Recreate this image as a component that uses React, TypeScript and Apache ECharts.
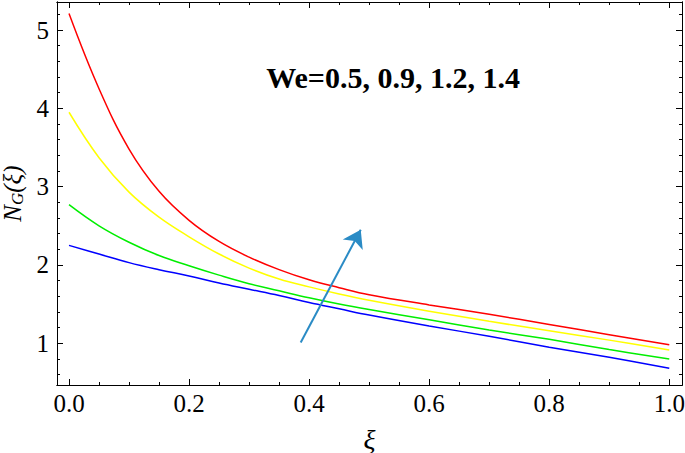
import React, { useEffect, useRef } from "react";
import * as echarts from "echarts";

const xi = [0, 0.05, 0.1, 0.15, 0.2, 0.25, 0.3, 0.35, 0.4, 0.45, 0.5, 0.6, 0.7, 0.8, 0.9, 1.0];
const we05 = [2.25, 2.14, 2.03, 1.94, 1.86, 1.77, 1.69, 1.61, 1.52, 1.44, 1.36, 1.22, 1.09, 0.95, 0.82, 0.68];
const we09 = [2.77, 2.5, 2.29, 2.12, 1.99, 1.87, 1.76, 1.67, 1.58, 1.5, 1.43, 1.3, 1.17, 1.05, 0.92, 0.8];
const we12 = [3.95, 3.37, 2.93, 2.61, 2.36, 2.14, 1.96, 1.82, 1.72, 1.63, 1.55, 1.41, 1.28, 1.16, 1.04, 0.915];
const we14 = [5.21, 4.25, 3.48, 2.94, 2.57, 2.3, 2.1, 1.94, 1.81, 1.71, 1.62, 1.49, 1.37, 1.24, 1.11, 0.98];

const xMajor = [0, 0.2, 0.4, 0.6, 0.8, 1.0];
const xMinor = [0.05, 0.1, 0.15, 0.25, 0.3, 0.35, 0.45, 0.5, 0.55, 0.65, 0.7, 0.75, 0.85, 0.9, 0.95];
const yMajor = [1, 2, 3, 4, 5];
const yMinor = [0.6, 0.8, 1.2, 1.4, 1.6, 1.8, 2.2, 2.4, 2.6, 2.8, 3.2, 3.4, 3.6, 3.8, 4.2, 4.4, 4.6, 4.8, 5.2];

const arrowFrom = [0.386, 1.01];
const arrowTo = [0.486, 2.45];
const annotation = "We=0.5, 0.9, 1.2, 1.4";

const FONT = "'Liberation Serif', 'Times New Roman', serif";
const X_MIN = -0.02;
const X_MAX = 1.0212;
const Y_MIN = 0.467;
const Y_MAX = 5.358;

function xAxisDef(position: string, major: boolean, labels: boolean) {
  return {
    type: "value",
    position,
    min: X_MIN,
    max: X_MAX,
    gridIndex: 0,
    axisLine: { show: true, onZero: false, lineStyle: { color: "#000", width: 1 } },
    axisTick: {
      show: true,
      inside: true,
      length: major ? 6 : 3,
      customValues: major ? xMajor : xMinor,
      lineStyle: { color: "#000", width: 1 },
    },
    axisLabel: {
      show: labels,
      customValues: xMajor,
      formatter: (v: number) => v.toFixed(1),
      fontFamily: FONT,
      fontSize: 25,
      color: "#000",
      margin: 6,
    },
    splitLine: { show: false },
  };
}

function yAxisDef(position: string, major: boolean, labels: boolean) {
  return {
    type: "value",
    position,
    min: Y_MIN,
    max: Y_MAX,
    gridIndex: 0,
    axisLine: { show: true, onZero: false, lineStyle: { color: "#000", width: 1 } },
    axisTick: {
      show: true,
      inside: true,
      length: major ? 6 : 3,
      customValues: major ? yMajor : yMinor,
      lineStyle: { color: "#000", width: 1 },
    },
    axisLabel: {
      show: labels,
      customValues: yMajor,
      formatter: (v: number) => String(Math.round(v)),
      fontFamily: FONT,
      fontSize: 25,
      color: "#000",
      margin: 8,
    },
    splitLine: { show: false },
  };
}

export default function App() {
  const ref = useRef<HTMLDivElement>(null);
  useEffect(() => {
    if (!ref.current) return;
    const chart = echarts.init(ref.current, undefined, { renderer: "svg" });
    const mk = (name: string, data: number[], color: string) => ({
      name,
      type: "line",
      xAxisIndex: 0,
      yAxisIndex: 0,
      data: xi.map((x, i) => [x, data[i]]),
      smooth: 0.4,
      showSymbol: false,
      lineStyle: { color, width: 1.5 },
      z: 3,
    });
    const xb = xAxisDef("bottom", true, true);
    (xb as any).name = "ξ";
    (xb as any).nameLocation = "middle";
    (xb as any).nameGap = 40;
    (xb as any).nameTextStyle = { fontFamily: FONT, fontStyle: "italic", fontSize: 28, color: "#000" };
    const yl = yAxisDef("left", true, true);
    (yl as any).name = "{i|N}{s|G}{i|(ξ)}";
    (yl as any).nameLocation = "middle";
    (yl as any).nameGap = 24;
    (yl as any).nameTextStyle = {
      rich: {
        i: { fontFamily: FONT, fontStyle: "italic", fontSize: 25, color: "#000" },
        s: { fontFamily: FONT, fontStyle: "italic", fontSize: 17, color: "#000", padding: [9, 0, 0, 0] },
      },
    };
    chart.setOption({
      animation: false,
      backgroundColor: "#fff",
      grid: { left: 57, right: 3, top: 2, bottom: 68, containLabel: false, outerBoundsMode: "none" },
      xAxis: [
        xb,
        xAxisDef("bottom", false, false),
        xAxisDef("top", true, false),
        xAxisDef("top", false, false),
      ],
      yAxis: [
        yl,
        yAxisDef("left", false, false),
        yAxisDef("right", true, false),
        yAxisDef("right", false, false),
      ],
      series: [
        mk("We=0.5", we05, "#0000ff"),
        mk("We=0.9", we09, "#00ee00"),
        mk("We=1.2", we12, "#ffff00"),
        mk("We=1.4", we14, "#ff0000"),
        {
          type: "lines",
          coordinateSystem: "cartesian2d",
          xAxisIndex: 0,
          yAxisIndex: 0,
          data: [{ coords: [arrowFrom, arrowTo] }],
          symbol: ["none", "arrow"],
          symbolSize: 17,
          lineStyle: { color: "#2a8bc5", width: 2, opacity: 1, curveness: 0 },
          z: 5,
        },
      ],
      graphic: [
        {
          type: "text",
          x: 393,
          y: 77,
          style: {
            text: annotation,
            fontFamily: FONT,
            fontWeight: "bold",
            fontSize: 30,
            fill: "#000",
            textAlign: "center",
            textVerticalAlign: "middle",
          },
        },
      ],
    });
    return () => chart.dispose();
  }, []);
  return <div ref={ref} style={{ width: 685, height: 453, position: "fixed", left: 0, top: 0 }} />;
}
